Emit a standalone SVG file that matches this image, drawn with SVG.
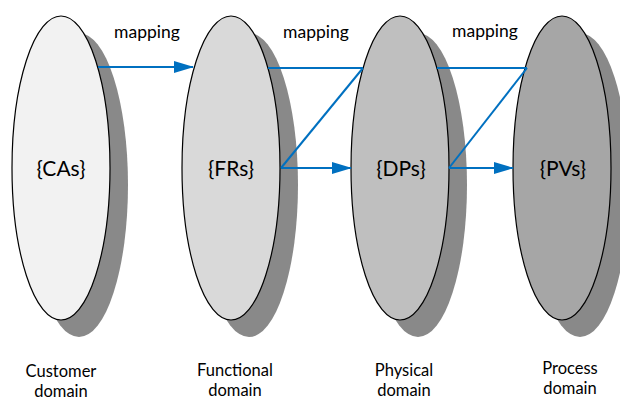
<svg xmlns="http://www.w3.org/2000/svg" width="620" height="400" viewBox="0 0 620 400">
<defs>
<style>
.sh{fill:#898989;stroke:none}
.el{stroke:#000;stroke-width:1.2}
.t{font-family:Lato,"Open Sans",sans-serif;fill:#000;text-anchor:middle}
.lbl{font-size:21px}
.map{font-size:17.5px}
.dom{font-size:16.5px}
.c{stroke:#0070c0;stroke-width:2;fill:none}
</style>
<marker id="ah" markerWidth="20" markerHeight="12" refX="19" refY="6" orient="auto" markerUnits="userSpaceOnUse">
<path d="M0,0 L20,6 L0,12 Z" fill="#0070c0"/>
</marker>
</defs>
<rect width="620" height="400" fill="#fff"/>
<g id="node-cas">
<ellipse class="sh" cx="79" cy="185" rx="49" ry="152"/>
<ellipse class="el" cx="61" cy="168" rx="49" ry="152" fill="#f2f2f2"/>
<text class="t lbl" x="61" y="176">{CAs}</text>
</g>
<g id="node-frs">
<ellipse class="sh" cx="249" cy="185" rx="49" ry="152"/>
<ellipse class="el" cx="231" cy="168" rx="49" ry="152" fill="#d9d9d9"/>
<text class="t lbl" x="231" y="176">{FRs}</text>
</g>
<g id="node-dps">
<ellipse class="sh" cx="418" cy="185" rx="49" ry="152"/>
<ellipse class="el" cx="400" cy="168" rx="49" ry="152" fill="#bfbfbf"/>
<text class="t lbl" x="401" y="176">{DPs}</text>
</g>
<g id="node-pvs">
<ellipse class="sh" cx="580" cy="185" rx="49" ry="152"/>
<ellipse class="el" cx="562" cy="168" rx="49" ry="152" fill="#a6a6a6"/>
<text class="t lbl" x="563" y="176">{PVs}</text>
</g>
<g id="connectors">
<line class="c" x1="98" y1="67" x2="193" y2="67" marker-end="url(#ah)"/>
<line class="c" x1="268" y1="68" x2="363" y2="68"/>
<line class="c" x1="281" y1="168" x2="363" y2="68"/>
<line class="c" x1="281" y1="168" x2="351" y2="168" marker-end="url(#ah)"/>
<line class="c" x1="437" y1="68" x2="527" y2="68"/>
<line class="c" x1="449" y1="168" x2="527" y2="68"/>
<line class="c" x1="449" y1="168" x2="513" y2="168" marker-end="url(#ah)"/>
</g>
<g id="labels">
<text class="t dom" x="61" y="377">Customer</text>
<text class="t dom" x="61" y="397">domain</text>
<text class="t dom" x="235" y="376">Functional</text>
<text class="t dom" x="235" y="396">domain</text>
<text class="t dom" x="404" y="376">Physical</text>
<text class="t dom" x="404" y="396">domain</text>
<text class="t dom" x="570" y="374">Process</text>
<text class="t dom" x="570" y="394">domain</text>
<text class="t map" x="147" y="38">mapping</text>
<text class="t map" x="316" y="38">mapping</text>
<text class="t map" x="485" y="37">mapping</text>
</g>
</svg>
